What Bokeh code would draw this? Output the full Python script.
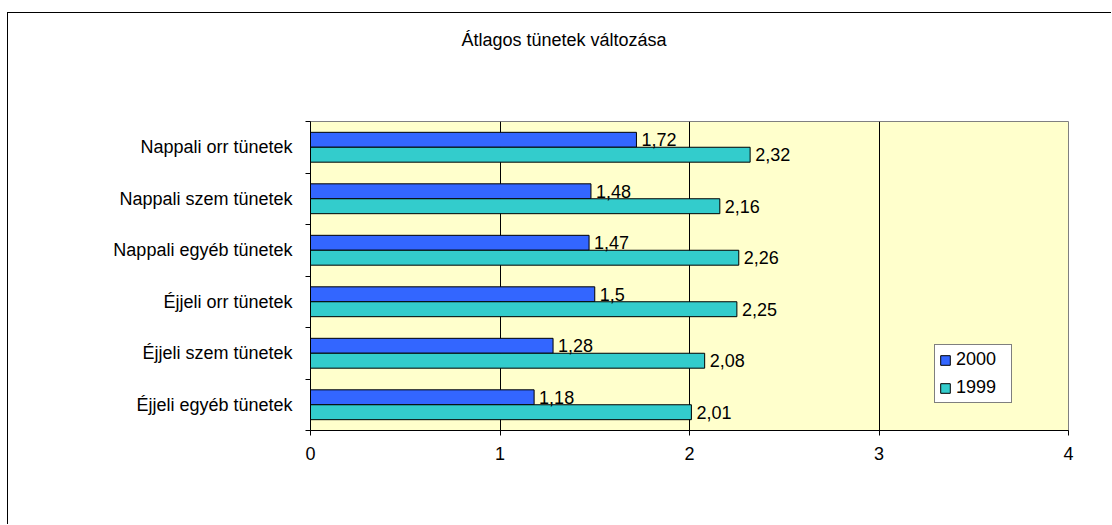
from bokeh.plotting import figure
from bokeh.models import (ColumnDataSource, Range1d, FixedTicker, LabelSet, Title,
                          Legend, LegendItem)
from bokeh.core.properties import value
from bokeh.embed import file_html
from bokeh.resources import INLINE

categories = ["Nappali orr tünetek", "Nappali szem tünetek", "Nappali egyéb tünetek",
              "Éjjeli orr tünetek", "Éjjeli szem tünetek", "Éjjeli egyéb tünetek"]
values_2000 = [1.72, 1.48, 1.47, 1.5, 1.28, 1.18]
values_1999 = [2.32, 2.16, 2.26, 2.25, 2.08, 2.01]
series_names = ["2000", "1999"]
x_ticks = [0, 1, 2, 3, 4]
title_text = "Átlagos tünetek változása"

FONT = "Liberation Sans"
FS = "18px"
n = len(categories)
centers = [n - i - 0.5 for i in range(n)]
bar_h = 0.29

def fmt(v):
    return f"{v:g}".replace(".", ",")

src00 = ColumnDataSource(dict(y=[c + bar_h / 2 for c in centers], x=values_2000,
                              lab=[fmt(v) for v in values_2000]))
src99 = ColumnDataSource(dict(y=[c - bar_h / 2 for c in centers], x=values_1999,
                              lab=[fmt(v) for v in values_1999]))

p = figure(width=1104, height=512, output_backend="svg", toolbar_location=None,
           x_range=Range1d(0, 4), y_range=Range1d(0, n),
           min_border_left=302, min_border_right=44, min_border_top=108, min_border_bottom=95)
p.styles = {"margin-left": "7px", "margin-top": "12px",
            "margin-right": "-40px", "margin-bottom": "-40px",
            "border-left": "1px solid black", "border-top": "1px solid black"}
p.background_fill_color = "#FFFFCC"
p.border_fill_color = "white"
p.outline_line_color = "#808080"
p.outline_line_width = 1

r00 = p.hbar(y="y", right="x", left=0, height=bar_h, source=src00,
             fill_color="#3366FF", line_color="black", line_width=1)
r99 = p.hbar(y="y", right="x", left=0, height=bar_h, source=src99,
             fill_color="#33CCCC", line_color="black", line_width=1)

for s in (src00, src99):
    p.add_layout(LabelSet(x="x", y="y", text="lab", source=s, x_offset=5,
                          text_baseline="middle", text_align="left",
                          text_font=value(FONT), text_font_size=value(FS),
                          text_color="black"))

# grid
p.ygrid.visible = False
p.xgrid.ticker = FixedTicker(ticks=[1, 2, 3])
p.xgrid.grid_line_color = "black"
p.xgrid.grid_line_width = 1

# x axis
xa = p.xaxis[0]
xa.ticker = FixedTicker(ticks=x_ticks)
xa.axis_line_color = "black"
xa.major_tick_out = 5
xa.major_tick_in = 0
xa.minor_tick_line_color = None
xa.major_label_standoff = 11
xa.major_label_text_font = FONT
xa.major_label_text_font_size = FS
xa.major_label_text_color = "black"

# y axis
ya = p.yaxis[0]
ya.ticker = FixedTicker(ticks=centers, minor_ticks=list(range(n + 1)))
ya.major_label_overrides = {c: cat for c, cat in zip(centers, categories)}
ya.axis_line_color = "black"
ya.major_tick_out = 0
ya.major_tick_in = 0
ya.minor_tick_out = 5
ya.minor_tick_in = 0
ya.minor_tick_line_color = "black"
ya.major_label_standoff = 13
ya.major_label_text_font = FONT
ya.major_label_text_font_size = FS
ya.major_label_text_color = "black"

legend = Legend(items=[LegendItem(label=series_names[0], renderers=[r00]),
                       LegendItem(label=series_names[1], renderers=[r99])],
                location=(624, 27), orientation="vertical",
                glyph_width=12, glyph_height=12, label_height=20, label_width=51,
                label_standoff=5, padding=4, spacing=7, margin=0,
                border_line_color="black", border_line_width=1,
                background_fill_color="white", background_fill_alpha=1,
                label_text_font=FONT, label_text_font_size=FS, label_text_color="black")
p.add_layout(legend, "center")

# spacer panel between the frame and the title
p.add_layout(Title(text=" ", standoff=45, text_font=FONT, text_font_size=FS), "above")
p.add_layout(Title(text=title_text, align="left", offset=151, standoff=10,
                   text_font=FONT, text_font_size=FS, text_font_style="normal",
                   text_color="black"), "above")

open("out.html", "w").write(file_html(p, INLINE))
